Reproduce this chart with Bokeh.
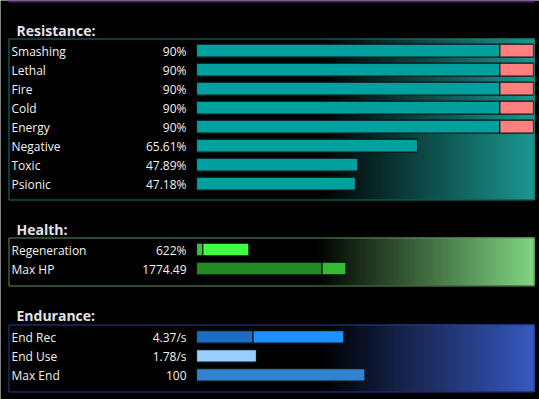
from bokeh.plotting import figure
from bokeh.models import Range1d
from bokeh.embed import file_html
from bokeh.resources import INLINE
from bokeh.core.properties import value

# ---------------- data ----------------
res_names = ["Smashing", "Lethal", "Fire", "Cold", "Energy", "Negative", "Toxic", "Psionic"]
res_values = [90, 90, 90, 90, 90, 65.61, 47.89, 47.18]
res_uncapped = [100, 100, 100, 100, 100, 65.61, 47.89, 47.18]
res_labels = ["90%", "90%", "90%", "90%", "90%", "65.61%", "47.89%", "47.18%"]
res_scale = 100
res_cap = 90

hp_names = ["Regeneration", "Max HP"]
hp_base = [75, 1490]
hp_values = [622, 1774.49]
hp_labels = ["622%", "1774.49"]
hp_scale = [4000, 4000]

end_names = ["End Rec", "End Use", "Max End"]
end_base = [1.67, 0, 0]
end_values = [4.37, 1.78, 100]
end_labels = ["4.37/s", "1.78/s", "100"]
end_scale = [10, 10, 200]

# ---------------- layout helpers (page pixels) ----------------
W, H = 539, 399
BAR_X0, BAR_W = 196, 337


def px(sx):
    """page x pixel -> bar-fraction coordinate"""
    return (sx - BAR_X0) / BAR_W


p = figure(width=W, height=H,
           x_range=Range1d(px(0), px(W)),
           y_range=Range1d(H, 0),
           output_backend="svg", toolbar_location=None,
           x_axis_location=None, y_axis_location=None,
           min_border=0, background_fill_color="#000000",
           border_fill_color="#000000", outline_line_color=None)
p.grid.visible = False

FONT = value("Open Sans")


def hexc(rgb):
    return "#%02x%02x%02x" % tuple(int(round(c)) for c in rgb)


# bottom edge of the panel above
p.segment(x0=[px(8)], x1=[px(534)], y0=[0.9], y1=[0.9], line_color="#521f7c", line_width=2)


def panel(top, bottom, color, border, gstart=318):
    # gradient background (black -> color)
    xl, xr = 8, 533
    lefts, rights, cols = [], [], []
    for sx in range(gstart, xr + 1):
        t = (sx - gstart) / (xr - gstart)
        lefts.append(px(sx))
        rights.append(px(sx + 1.2))
        cols.append(hexc([c * t for c in color]))
    p.quad(left=lefts, right=rights, top=[top] * len(lefts), bottom=[bottom] * len(lefts),
           fill_color=cols, line_color=None)
    return (xl, xr, top, bottom, border)


def border(b):
    xl, xr, top, bottom, col = b
    p.quad(left=[px(xl + 0.5)], right=[px(xr + 0.5)], top=[top + 0.5], bottom=[bottom + 0.5],
           fill_color=None, line_color=col, line_width=1)


def title(txt, y):
    p.text(x=[px(16)], y=[y], text=[txt], text_font=FONT, text_font_size="14px",
           text_font_style="bold", text_color="#e2e2ee", text_baseline="alphabetic")


def labels(names, vals, y0):
    ys = [y0 + i * 19 + 1 for i in range(len(names))]
    p.text(x=[px(11)] * len(names), y=ys, text=names, text_font=FONT, text_font_size="12px",
           text_color="#f2f2f2", text_baseline="middle", text_align="left")
    p.text(x=[px(186)] * len(names), y=ys, text=vals, text_font=FONT, text_font_size="12px",
           text_color="#f2f2f2", text_baseline="middle", text_align="right")


OUT = "#0b1414"

# ---------------- Resistance ----------------
title("Resistance:", 30)
rb = panel(38, 199, (32, 178, 170), "#1d7a72")
ry = [50.2 + i * 19 for i in range(len(res_names))]
p.hbar(y=ry, left=0, right=[v / res_scale for v in res_values], height=13,
       fill_color="#00a09e", line_color=OUT, line_width=1.2)
over_y = [y for y, u in zip(ry, res_uncapped) if u > res_cap]
over_r = [min(u, res_scale) / res_scale for u in res_uncapped if u > res_cap]
p.hbar(y=over_y, left=res_cap / res_scale, right=over_r, height=13,
       fill_color="#ff7f7f", line_color=OUT, line_width=1.2)
border(rb)
labels(res_names, res_labels, 50)

# ---------------- Health ----------------
title("Health:", 229)
hb = panel(237, 285, (152, 251, 152), "#5b8f5b", gstart=314)
hy = [249 + i * 19 for i in range(len(hp_names))]
hp_base_col = ["#33c833", "#228b22"]
hp_extra_col = ["#40ff40", "#33bb33"]
p.hbar(y=hy, left=0, right=[b / s for b, s in zip(hp_base, hp_scale)], height=12.5,
       fill_color=hp_base_col, line_color=OUT, line_width=1.2)
p.hbar(y=hy, left=[b / s for b, s in zip(hp_base, hp_scale)],
       right=[v / s for v, s in zip(hp_values, hp_scale)], height=12.5,
       fill_color=hp_extra_col, line_color=OUT, line_width=1.2)
border(hb)
labels(hp_names, hp_labels, 249)

# ---------------- Endurance ----------------
title("Endurance:", 315)
eb = panel(324, 391, (65, 105, 225), "#2b3d92")
ey = [336.3 + i * 19 for i in range(len(end_names))]
end_base_col = ["#1c6cc6", "#99ccff", "#3282d2"]
end_extra_col = ["#1e90ff", "#99ccff", "#3282d2"]
p.hbar(y=ey, left=[b / s for b, s in zip(end_base, end_scale)],
       right=[v / s for v, s in zip(end_values, end_scale)], height=12.5,
       fill_color=end_extra_col, line_color=OUT, line_width=1.2)
bi = [i for i, b in enumerate(end_base) if b > 0]
p.hbar(y=[ey[i] for i in bi], left=0, right=[end_base[i] / end_scale[i] for i in bi], height=12.5,
       fill_color=[end_base_col[i] for i in bi], line_color=OUT, line_width=1.2)
border(eb)
labels(end_names, end_labels, 336)

open("out.html", "w").write(file_html(p, INLINE))
